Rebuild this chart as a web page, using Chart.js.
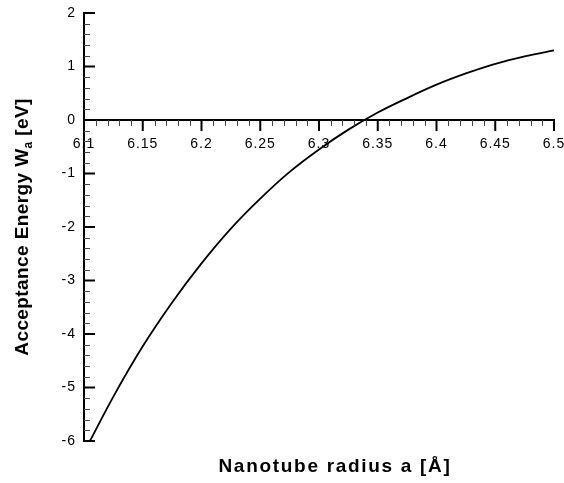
<!DOCTYPE html>
<html>
<head>
<meta charset="utf-8">
<script src="https://cdn.jsdelivr.net/npm/chart.js@4"></script>
<style>
  html, body { margin: 0; padding: 0; background: #fff; }
</style>
</head>
<body>
<canvas id="energyChart" width="564" height="483"></canvas>
<script>
// ==========================================
// Acceptance energy vs nanotube radius
// ==========================================

// values
const radius = [6.105, 6.125, 6.15, 6.175, 6.2, 6.225, 6.25, 6.275, 6.3, 6.325, 6.35, 6.375, 6.4, 6.425, 6.45, 6.475, 6.5];
const energy = [-6.0, -5.17, -4.23, -3.41, -2.68, -2.03, -1.47, -0.97, -0.55, -0.18, 0.14, 0.41, 0.66, 0.87, 1.05, 1.19, 1.30];

const xTicks = [6.1, 6.15, 6.2, 6.25, 6.3, 6.35, 6.4, 6.45, 6.5];
const xTickLabels = ["6.1", "6.15", "6.2", "6.25", "6.3", "6.35", "6.4", "6.45", "6.5"];
const yTicks = [-6, -5, -4, -3, -2, -1, 0, 1, 2];
const yTickLabels = ["-6", "-5", "-4", "-3", "-2", "-1", "0", "1", "2"];

const xTitle = "Nanotube radius a [\u00C5]";
const yTitleParts = ["Acceptance Energy W", "a", " [eV]"];

const FONT = "'Liberation Sans', Arial, sans-serif";

// axis lines with major/minor ticks, the old plotting-package way
const axesPlugin = {
    id: "tecAxes",
    beforeDraw(chart) {
        chart.ctx.letterSpacing = "1px";
    },
    afterDatasetsDraw(chart) {
        const ctx = chart.ctx;
        const x = chart.scales.x;
        const y = chart.scales.y;

        const left = x.getPixelForValue(xTicks[0]);
        const right = x.getPixelForValue(xTicks[xTicks.length - 1]);
        const top = y.getPixelForValue(yTicks[yTicks.length - 1]);
        const bottom = y.getPixelForValue(yTicks[0]);
        const y0 = y.getPixelForValue(0);

        ctx.save();
        ctx.strokeStyle = "#000";

        ctx.lineWidth = 2;
        ctx.beginPath();
        ctx.moveTo(left, top - 1);
        ctx.lineTo(left, bottom + 1);
        ctx.moveTo(left, y0);
        ctx.lineTo(right + 1, y0);
        ctx.stroke();

        // major ticks
        ctx.beginPath();
        yTicks.forEach(v => {
            const p = y.getPixelForValue(v);
            ctx.moveTo(left, p);
            ctx.lineTo(left + 11, p);
        });
        xTicks.forEach(v => {
            const p = x.getPixelForValue(v);
            ctx.moveTo(p, y0);
            ctx.lineTo(p, y0 + 11);
        });
        ctx.stroke();

        // minor ticks, 4 between majors
        ctx.lineWidth = 1;
        ctx.strokeStyle = "#444";
        ctx.beginPath();
        for (let i = 0; i < yTicks.length - 1; i++) {
            const a = y.getPixelForValue(yTicks[i]);
            const b = y.getPixelForValue(yTicks[i + 1]);
            for (let k = 1; k < 5; k++) {
                const p = Math.round(a + (b - a) * k / 5) + 0.5;
                ctx.moveTo(left, p);
                ctx.lineTo(left + 6, p);
            }
        }
        for (let i = 0; i < xTicks.length - 1; i++) {
            const a = x.getPixelForValue(xTicks[i]);
            const b = x.getPixelForValue(xTicks[i + 1]);
            for (let k = 1; k < 5; k++) {
                const p = Math.round(a + (b - a) * k / 5) + 0.5;
                ctx.moveTo(p, y0);
                ctx.lineTo(p, y0 + 6);
            }
        }
        ctx.stroke();
        ctx.restore();
    },
    afterDraw(chart) {
        const ctx = chart.ctx;
        const area = chart.chartArea;
        ctx.save();
        ctx.fillStyle = "#000";
        ctx.textBaseline = "alphabetic";

        // x title
        ctx.letterSpacing = "1.7px";
        ctx.font = "bold 19px " + FONT;
        ctx.textAlign = "center";
        ctx.fillText(xTitle, (area.left + area.right) / 2 + 16, 472);

        // y title with subscript
        ctx.letterSpacing = "0.4px";
        ctx.textAlign = "left";
        const big = "bold 19px " + FONT;
        const small = "bold 12px " + FONT;
        ctx.font = big;
        const w1 = ctx.measureText(yTitleParts[0]).width;
        const w3 = ctx.measureText(yTitleParts[2]).width;
        ctx.font = small;
        const w2 = ctx.measureText(yTitleParts[1]).width;
        const total = w1 + w2 + w3;

        ctx.translate(28, (area.top + area.bottom) / 2);
        ctx.rotate(-Math.PI / 2);
        let pos = -total / 2;
        ctx.font = big;
        ctx.fillText(yTitleParts[0], pos, 0);
        pos += w1;
        ctx.font = small;
        ctx.fillText(yTitleParts[1], pos, 4);
        pos += w2;
        ctx.font = big;
        ctx.fillText(yTitleParts[2], pos, 0);
        ctx.restore();
    }
};

const ctx = document.getElementById("energyChart").getContext("2d");

const energyChart = new Chart(ctx, {
    type: "line",
    data: {
        datasets: [{
            label: "W_a",
            data: radius.map((r, i) => ({ x: r, y: energy[i] })),
            borderColor: "#000",
            backgroundColor: "#000",
            borderWidth: 1.8,
            pointRadius: 0,
            cubicInterpolationMode: "monotone",
            fill: false,
            clip: false
        }]
    },
    options: {
        responsive: false,
        animation: false,
        devicePixelRatio: 1,
        layout: {
            padding: { left: 0, top: 13, right: 10, bottom: 42 }
        },
        plugins: {
            legend: { display: false },
            tooltip: { enabled: false }
        },
        scales: {
            x: {
                type: "linear",
                position: { y: 0 },
                min: xTicks[0],
                max: xTicks[xTicks.length - 1],
                afterBuildTicks: scale => {
                    scale.ticks = xTicks.map(v => ({ value: v }));
                },
                afterFit: scale => {
                    scale.paddingLeft = 0;
                    scale.paddingRight = 0;
                },
                grid: { display: false, drawTicks: false },
                border: { display: false },
                ticks: {
                    color: "#000",
                    padding: 16,
                    maxRotation: 0,
                    autoSkip: false,
                    font: { family: FONT, size: 14 },
                    callback: v => xTickLabels[xTicks.indexOf(v)]
                }
            },
            y: {
                type: "linear",
                position: "left",
                min: yTicks[0],
                max: yTicks[yTicks.length - 1],
                afterBuildTicks: scale => {
                    scale.ticks = yTicks.map(v => ({ value: v }));
                },
                afterFit: scale => {
                    scale.width = 84;
                    scale.paddingTop = 0;
                    scale.paddingBottom = 0;
                },
                grid: { display: false, drawTicks: false },
                border: { display: false },
                ticks: {
                    color: "#000",
                    padding: 8,
                    autoSkip: false,
                    font: { family: FONT, size: 14 },
                    callback: v => yTickLabels[yTicks.indexOf(v)]
                }
            }
        }
    },
    plugins: [axesPlugin]
});
</script>
</body>
</html>
